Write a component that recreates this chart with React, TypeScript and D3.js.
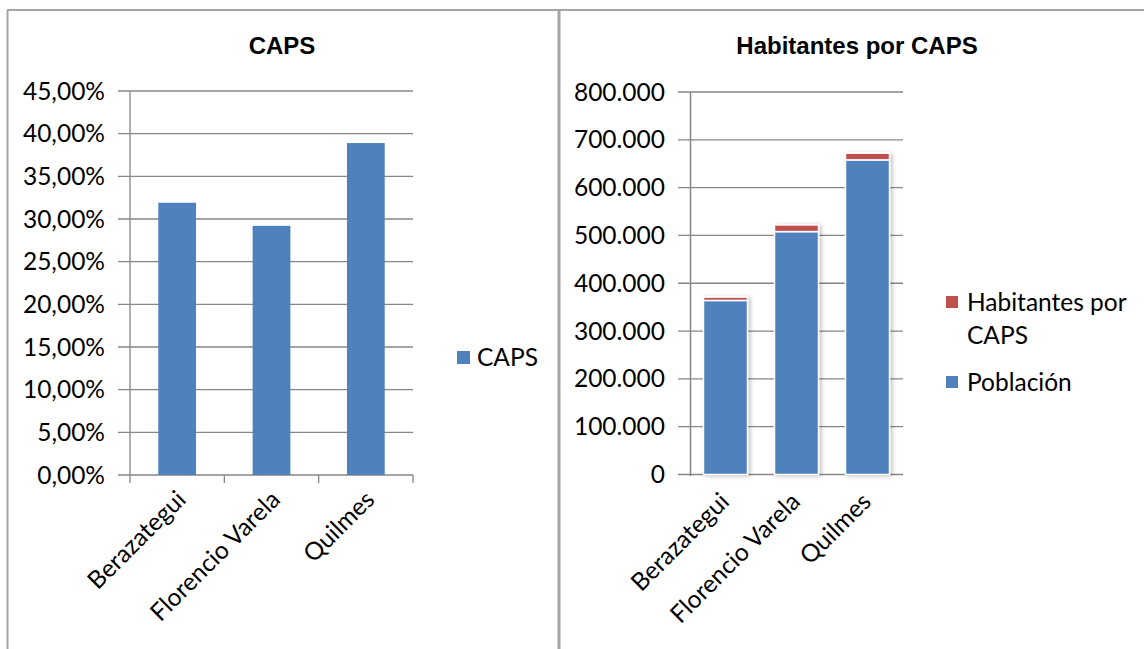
import React from 'react';
import * as d3 from 'd3';

const categories = ['Berazategui', 'Florencio Varela', 'Quilmes'];
const capsShare = [0.319, 0.292, 0.389];
const poblacion = [364000, 508000, 658000];
const habPorCaps = [7000, 14000, 14000];
const leftTicks = [0, 0.05, 0.1, 0.15, 0.2, 0.25, 0.3, 0.35, 0.4, 0.45];
const rightTicks = [0, 100000, 200000, 300000, 400000, 500000, 600000, 700000, 800000];

const BLUE = '#4F81BD';
const RED = '#C0504D';
const GRID = '#868686';
const BORDER = '#a6a6a6';
const FONT = 'Lato, "Open Sans", sans-serif';
const TITLE_FONT = '"Liberation Sans", Arial, sans-serif';
const FS = 24.5;

const locale = d3.formatLocale({ decimal: ',', thousands: '.', grouping: [3], currency: ['$', ''] });
const fmtPct = locale.format('.2%');
const fmtNum = locale.format(',d');

export default function App() {
  // left chart scales
  const xL = d3.scaleBand<string>().domain(categories).range([130, 413]).paddingInner(0.6).paddingOuter(0.3);
  const yL = d3.scaleLinear().domain([0, 0.45]).range([475, 91]);
  const stepL = xL.step();

  // right chart scales
  const xR = d3.scaleBand<string>().domain(categories).range([690, 903]).paddingInner(0.38).paddingOuter(0.19);
  const yR = d3.scaleLinear().domain([0, 800000]).range([474.5, 92]);

  return (
    <div style={{ position: 'absolute', left: 0, top: 0 }}>
      <svg width={1144} height={649} style={{ display: 'block', background: '#fff' }}>
        <defs>
          <filter id="shadow" x="-20%" y="-10%" width="150%" height="130%">
            <feDropShadow dx="2" dy="1" stdDeviation="2" floodColor="#000" floodOpacity="0.25" />
          </filter>
        </defs>

        {/* frame */}
        <line x1={7} x2={1144} y1={10} y2={10} stroke={BORDER} strokeWidth={2} />
        <line x1={7.5} x2={7.5} y1={10} y2={649} stroke={BORDER} strokeWidth={2} />
        <line x1={559} x2={559} y1={10} y2={649} stroke={BORDER} strokeWidth={3} />

        {/* ---------- left chart ---------- */}
        <text x={282} y={54} textAnchor="middle" fontFamily={TITLE_FONT} fontWeight="bold" fontSize={24}>CAPS</text>
        {leftTicks.map(t => (
          <g key={t}>
            <line x1={118} x2={413} y1={yL(t)} y2={yL(t)} stroke={GRID} strokeWidth={1.3} />
            <text x={105} y={yL(t)} dy="0.35em" textAnchor="end" fontFamily={FONT} fontSize={FS}>{fmtPct(t)}</text>
          </g>
        ))}
        <line x1={130} x2={130} y1={91} y2={483} stroke={GRID} strokeWidth={1.3} />
        {categories.map((c, i) => (
          <line key={c} x1={130 + stepL * (i + 1)} x2={130 + stepL * (i + 1)} y1={475} y2={483} stroke={GRID} strokeWidth={1.3} />
        ))}
        {categories.map((c, i) => (
          <rect key={c} x={xL(c)} y={yL(capsShare[i])} width={xL.bandwidth()} height={yL(0) - yL(capsShare[i])} fill={BLUE} />
        ))}
        {categories.map(c => {
          const cx = (xL(c) as number) + xL.bandwidth() / 2;
          return (
            <text key={c} transform={`translate(${cx - 2},${489}) rotate(-45)`} textAnchor="end" dy="0.7em"
              fontFamily={FONT} fontSize={FS}>{c}</text>
          );
        })}
        <rect x={457} y={351} width={13} height={13} fill={BLUE} />
        <text x={477} y={357.5} dy="0.35em" fontFamily={FONT} fontSize={FS}>CAPS</text>

        {/* ---------- right chart ---------- */}
        <text x={857} y={54} textAnchor="middle" fontFamily={TITLE_FONT} fontWeight="bold" fontSize={24}>Habitantes por CAPS</text>
        {rightTicks.map(t => (
          <g key={t}>
            <line x1={678} x2={903} y1={yR(t)} y2={yR(t)} stroke={GRID} strokeWidth={1.3} />
            <text x={665} y={yR(t)} dy="0.35em" textAnchor="end" fontFamily={FONT} fontSize={FS}>{fmtNum(t)}</text>
          </g>
        ))}
        <line x1={690.5} x2={690.5} y1={92} y2={476} stroke={GRID} strokeWidth={1.5} />
        <line x1={690} x2={903} y1={476} y2={476} stroke="#c8c8c8" strokeWidth={2} filter="url(#shadow)" />
        {categories.map((c, i) => {
          const x = xR(c) as number;
          const w = xR.bandwidth();
          return (
            <g key={c} filter="url(#shadow)">
              <rect x={x} y={yR(poblacion[i])} width={w} height={yR(0) - yR(poblacion[i])}
                fill={BLUE} stroke="#fff" strokeWidth={1.5} />
              <rect x={x} y={yR(poblacion[i] + habPorCaps[i])} width={w}
                height={yR(poblacion[i]) - yR(poblacion[i] + habPorCaps[i])}
                fill={RED} stroke="#fff" strokeWidth={1.5} />
            </g>
          );
        })}
        {categories.map(c => {
          const cx = (xR(c) as number) + xR.bandwidth() / 2;
          return (
            <text key={c} transform={`translate(${cx - 7},${491}) rotate(-45)`} textAnchor="end" dy="0.7em"
              fontFamily={FONT} fontSize={FS}>{c}</text>
          );
        })}
        <rect x={946} y={296} width={12} height={12} fill={RED} />
        <text x={967} y={302} dy="0.35em" fontFamily={FONT} fontSize={FS}>Habitantes por</text>
        <text x={967} y={335} dy="0.35em" fontFamily={FONT} fontSize={FS}>CAPS</text>
        <rect x={946} y={376} width={12} height={12} fill={BLUE} />
        <text x={967} y={382} dy="0.35em" fontFamily={FONT} fontSize={FS}>Población</text>
      </svg>
    </div>
  );
}
